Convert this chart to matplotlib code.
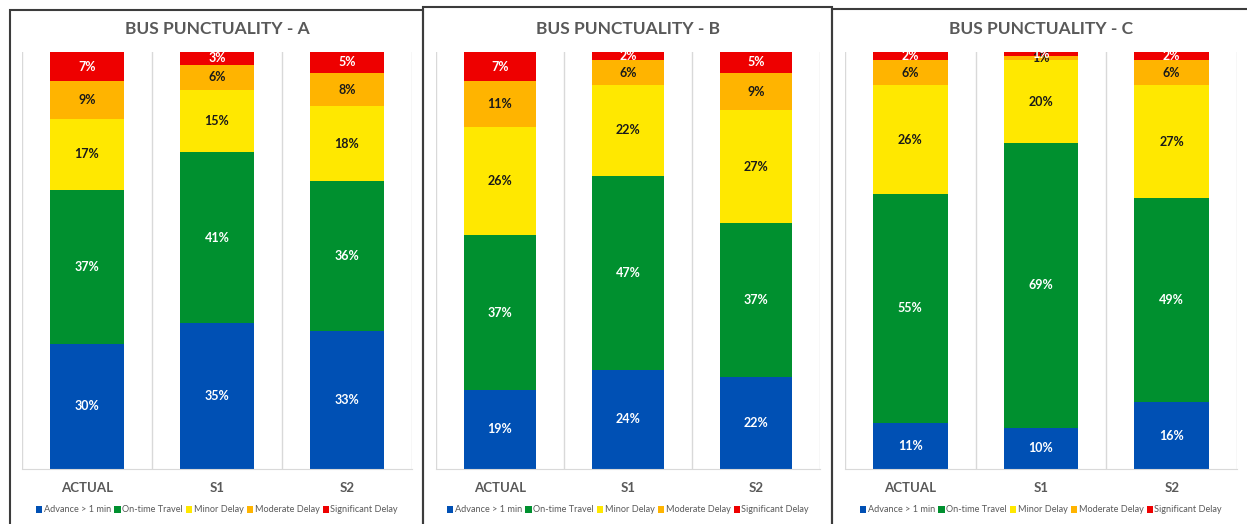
import matplotlib.pyplot as plt
import numpy as np
from matplotlib.patches import Patch, Rectangle

categories = ["ACTUAL", "S1", "S2"]
series_names = ["Advance > 1 min", "On-time Travel", "Minor Delay",
                "Moderate Delay", "Significant Delay"]
panel_titles = ["BUS PUNCTUALITY - A", "BUS PUNCTUALITY - B", "BUS PUNCTUALITY - C"]

# percentages per series, columns = ACTUAL, S1, S2
a_advance = [30, 35, 33]
a_ontime = [37, 41, 36]
a_minor = [17, 15, 18]
a_moderate = [9, 6, 8]
a_significant = [7, 3, 5]

b_advance = [19, 24, 22]
b_ontime = [37, 47, 37]
b_minor = [26, 22, 27]
b_moderate = [11, 6, 9]
b_significant = [7, 2, 5]

c_advance = [11, 10, 16]
c_ontime = [55, 69, 49]
c_minor = [26, 20, 27]
c_moderate = [6, 1, 6]
c_significant = [2, 1, 2]

panels = [
    [a_advance, a_ontime, a_minor, a_moderate, a_significant],
    [b_advance, b_ontime, b_minor, b_moderate, b_significant],
    [c_advance, c_ontime, c_minor, c_moderate, c_significant],
]

colors = ["#0050B4", "#00902F", "#FFE800", "#FFB400", "#EE0000"]
label_colors = ["white", "white", "#1a1a1a", "#1a1a1a", "white"]

W, H = 1247, 524
# axes boxes in pixels: left, right, top, bottom
ax_boxes = [(22, 412, 52, 469), (436, 820, 52, 469), (845, 1237, 52, 469)]
# panel borders in pixels: left, top, right
borders = [(10, 10, 423), (423, 7, 832), (832, 9, 1265)]

plt.rcParams["font.family"] = ["Lato", "DejaVu Sans"]
fig = plt.figure(figsize=(W / 100, H / 100), dpi=100)
fig.patch.set_facecolor("white")

for left, top, right in borders:
    fig.add_artist(Rectangle((left / W, -0.05), (right - left) / W, (H - top) / H + 0.05,
                             transform=fig.transFigure, fill=False,
                             edgecolor="#3c3c3c", linewidth=1.5))

x = np.arange(len(categories))
for title, series, (l, r, t, b) in zip(panel_titles, panels, ax_boxes):
    ax = fig.add_axes([l / W, (H - b) / H, (r - l) / W, (b - t) / H])
    values = np.array(series, dtype=float)
    shares = values / values.sum(axis=0) * 100
    bottom = np.zeros(len(categories))
    for i in range(len(series_names)):
        ax.bar(x, shares[i], bottom=bottom, width=0.57, color=colors[i], zorder=2)
        for j in range(len(categories)):
            ax.text(x[j], bottom[j] + shares[i][j] / 2, f"{values[i][j]:.0f}%",
                    ha="center", va="center", fontsize=9, fontweight="bold",
                    color=label_colors[i], zorder=3)
        bottom += shares[i]

    ax.set_xlim(-0.5, 2.5)
    ax.set_ylim(0, 100)
    ax.set_yticks([])
    for xv in [-0.5, 0.5, 1.5, 2.5]:
        ax.axvline(xv, color="#D9D9D9", linewidth=1, zorder=1)
    for side in ["top", "left", "right"]:
        ax.spines[side].set_visible(False)
    ax.spines["bottom"].set_color("#D9D9D9")
    ax.set_xticks(x)
    ax.set_xticklabels(categories, fontsize=9.5, fontweight="bold", color="#595959")
    ax.tick_params(axis="x", length=0, pad=9)

    h = b - t
    ax.text(0.5, (b - 29) / h, title, transform=ax.transAxes, ha="center", va="center",
            fontsize=12.5, fontweight="bold", color="#595959")

    handles = [Patch(facecolor=c, label=n) for c, n in zip(colors, series_names)]
    ax.legend(handles=handles, loc="center", bbox_to_anchor=(0.5, (b - 510) / h),
              ncol=5, frameon=False, fontsize=6.6, labelcolor="#595959",
              handlelength=0.7, handleheight=0.7, handletextpad=0.15,
              columnspacing=0.35, borderaxespad=0)

fig.savefig("out.png", dpi=100)
